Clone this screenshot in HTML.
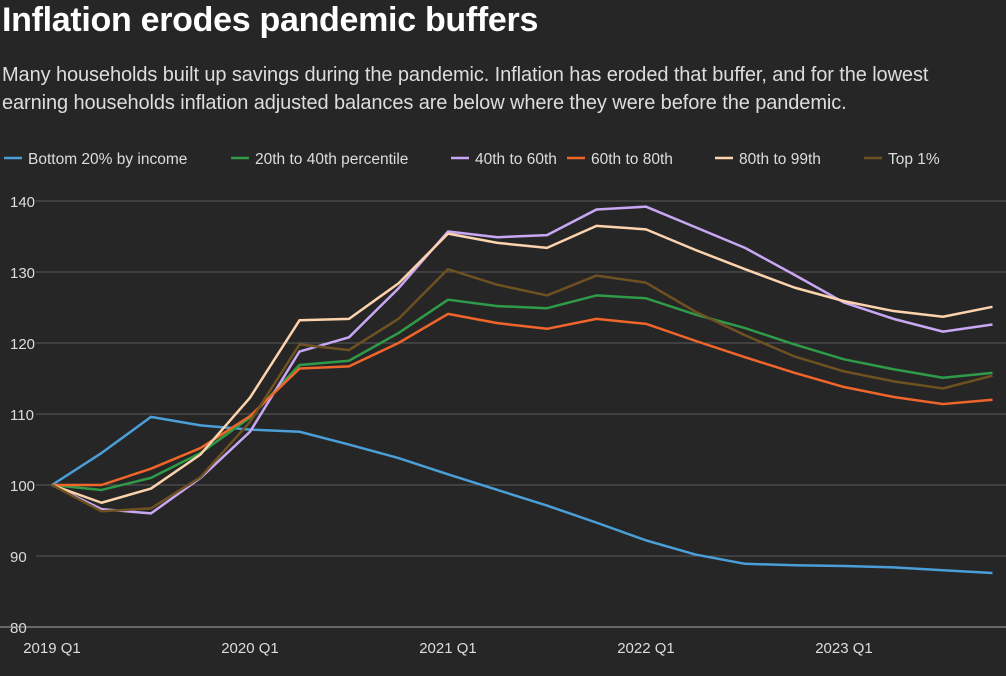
<!DOCTYPE html>
<html><head><meta charset="utf-8"><style>
body{margin:0;background:#262626;width:1006px;height:676px;overflow:hidden;font-family:"Liberation Sans",sans-serif;color:#fff}
h1{position:absolute;left:2px;top:1px;margin:0;font-size:34px;font-weight:bold;letter-spacing:-0.3px}
p{position:absolute;left:2px;top:61px;margin:0;font-size:20px;line-height:28px;color:#ddd;width:985px;letter-spacing:-0.1px}
svg{position:absolute;left:0;top:0}
</style></head><body>
<h1>Inflation erodes pandemic buffers</h1>
<p>Many households built up savings during the pandemic. Inflation has eroded that buffer, and for the lowest earning households inflation adjusted balances are below where they were before the pandemic.</p>
<svg id="chart" width="1006" height="676"></svg>
<script>
const quarters=["2019 Q1","2019 Q2","2019 Q3","2019 Q4","2020 Q1","2020 Q2","2020 Q3","2020 Q4","2021 Q1","2021 Q2","2021 Q3","2021 Q4","2022 Q1","2022 Q2","2022 Q3","2022 Q4","2023 Q1","2023 Q2","2023 Q3","2023 Q4"];
const xTickLabels=["2019 Q1","2020 Q1","2021 Q1","2022 Q1","2023 Q1"];
const yTicks=[80,90,100,110,120,130,140];
const seriesNames=["Bottom 20% by income","20th to 40th percentile","40th to 60th","60th to 80th","80th to 99th","Top 1%"];
const bottom20=[100,104.5,109.6,108.4,107.8,107.5,105.7,103.8,101.5,99.3,97.1,94.7,92.2,90.2,88.9,88.7,88.6,88.4,88.0,87.6];
const p20to40=[100,99.3,101.0,104.5,109.5,116.9,117.5,121.4,126.1,125.2,124.9,126.7,126.3,124.0,122.1,119.8,117.7,116.3,115.1,115.8];
const p40to60=[100,96.6,96.0,101.0,107.5,118.8,120.8,127.7,135.7,134.9,135.2,138.8,139.2,136.3,133.4,129.6,125.7,123.4,121.6,122.6];
const p60to80=[100,100.0,102.3,105.2,109.7,116.4,116.7,120.0,124.1,122.8,122.0,123.4,122.7,120.3,118.0,115.8,113.8,112.4,111.4,112.0];
const p80to99=[100,97.5,99.5,104.3,112.3,123.2,123.4,128.4,135.4,134.1,133.4,136.5,136.0,133.1,130.4,127.8,125.9,124.5,123.7,125.1];
const top1=[100,96.3,96.7,101.1,108.9,119.8,119.0,123.4,130.4,128.2,126.7,129.5,128.5,124.4,121.1,118.1,116.0,114.6,113.6,115.4];
const colors=["#4a9fd8","#2f9a48","#c8a8f4","#f0652a","#fdd3ad","#6e5120"];
const allSeries=[bottom20,p20to40,p40to60,p60to80,p80to99,top1];
const NS="http://www.w3.org/2000/svg",svg=document.getElementById('chart');
const x=i=>52+i*49.5, y=v=>627-(v-80)*7.1;
function mk(t,a){const e=document.createElementNS(NS,t);for(const k in a)e.setAttribute(k,a[k]);svg.appendChild(e);return e;}
yTicks.forEach(v=>{
  if(v>80){const g=mk('line',{x1:36,x2:1006,y1:y(v),y2:y(v),stroke:'#5a5a5a','stroke-width':1});
  
  }
  const t=mk('text',{x:10,y:y(v)+6,fill:'#ddd','font-size':15});t.textContent=v;
  
  
});
const ax=mk('line',{x1:0,x2:1006,y1:627,y2:627,stroke:'#aaa','stroke-width':1});


xTickLabels.forEach(l=>{
  const i=quarters.indexOf(l);
  const t=mk('text',{x:x(i),y:653,fill:'#ddd','font-size':15,'text-anchor':'middle'});t.textContent=l;
  
  
});
allSeries.forEach((s,k)=>{
  const p=mk('polyline',{points:s.map((v,i)=>x(i)+','+y(v)).join(' '),fill:'none',stroke:colors[k],'stroke-width':2.5,'stroke-linejoin':'round'});
  
  
});
const legX=[4,231,451,567,715,864];
seriesNames.forEach((n,k)=>{
  const l=mk('line',{x1:legX[k],x2:legX[k]+18,y1:158,y2:158,stroke:colors[k],'stroke-width':2.5});
  
  
  const t=mk('text',{x:legX[k]+24,y:164,fill:'#ddd','font-size':15.5});t.textContent=n;
  
  
});
</script>
</body></html>
